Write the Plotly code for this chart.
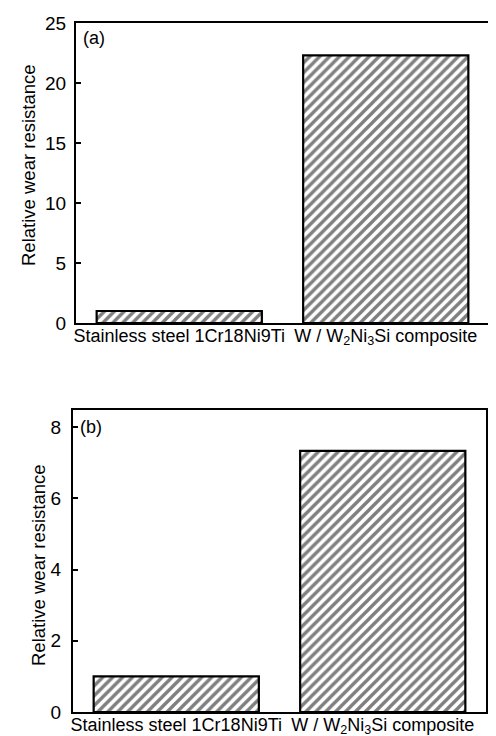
import plotly.graph_objects as go

categories = ["Stainless steel 1Cr18Ni9Ti", "W / W<sub>2</sub>Ni<sub>3</sub>Si composite"]
values_a = [1.0, 22.3]
values_b = [1.0, 7.33]
ticks_a = [0, 5, 10, 15, 20, 25]
ticks_b = [0, 2, 4, 6, 8]
y_title = "Relative wear resistance"

W, H = 496, 736
FONT = "Liberation Sans, Arial, sans-serif"

pattern = dict(shape="/", fgcolor="black", bgcolor="white", size=7, solidity=0.48, fillmode="overlay")

fig = go.Figure()
fig.add_trace(go.Bar(x=categories, y=values_a, xaxis="x", yaxis="y",
                     marker=dict(color="white", pattern=pattern, line=dict(color="black", width=2.2)),
                     width=0.8, showlegend=False))
fig.add_trace(go.Bar(x=categories, y=values_b, xaxis="x2", yaxis="y2",
                     marker=dict(color="white", pattern=pattern, line=dict(color="black", width=2.2)),
                     width=0.8, showlegend=False))

def px_dom_x(a, b):
    return [a / W, b / W]

def px_dom_y(top, bottom):
    return [1 - bottom / H, 1 - top / H]

axis_common = dict(showline=True, linecolor="black", linewidth=2, mirror=True,
                   showgrid=False, zeroline=False, automargin=False)

tick_font = dict(family=FONT, size=19, color="black")
xlab_font = dict(family=FONT, size=18, color="black")
title_font = dict(family=FONT, size=18.5, color="black")

fig.update_layout(
    width=W, height=H,
    margin=dict(l=0, r=0, t=0, b=0),
    paper_bgcolor="white", plot_bgcolor="white",
    font=dict(family=FONT, color="black"),
    xaxis=dict(domain=px_dom_x(68, 481), anchor="y", range=[-0.5, 1.5],
               ticks="", ticklen=0, tickfont=xlab_font, ticklabelstandoff=-5, **axis_common),
    yaxis=dict(domain=px_dom_y(15, 315), anchor="x", range=[0, 25], tickvals=ticks_a,
               ticks="inside", ticklen=5, tickwidth=1.5, tickcolor="black", tickfont=tick_font,
               ticklabelstandoff=4, **axis_common),
    xaxis2=dict(domain=px_dom_x(65, 478), anchor="y2", range=[-0.5, 1.5],
                ticks="", ticklen=0, tickfont=xlab_font, ticklabelstandoff=-5, **axis_common),
    yaxis2=dict(domain=px_dom_y(402, 704), anchor="x2", range=[0, 8.48], tickvals=ticks_b,
                ticks="inside", ticklen=5, tickwidth=1.5, tickcolor="black", tickfont=tick_font,
                ticklabelstandoff=6, **axis_common),
    annotations=[
        dict(text=y_title, xref="paper", yref="paper", x=21 / W, y=1 - 157 / H, textangle=-90,
             xanchor="center", yanchor="middle", showarrow=False, font=title_font),
        dict(text=y_title, xref="paper", yref="paper", x=30 / W, y=1 - 557 / H, textangle=-90,
             xanchor="center", yanchor="middle", showarrow=False, font=title_font),
        dict(text="(a)", xref="x domain", yref="y domain", x=0.012, y=0.95, xanchor="left", yanchor="middle",
             showarrow=False, font=dict(family=FONT, size=18, color="black")),
        dict(text="(b)", xref="x2 domain", yref="y2 domain", x=0.012, y=0.944, xanchor="left", yanchor="middle",
             showarrow=False, font=dict(family=FONT, size=18, color="black")),
    ],
)

fig.write_html("out.html")
